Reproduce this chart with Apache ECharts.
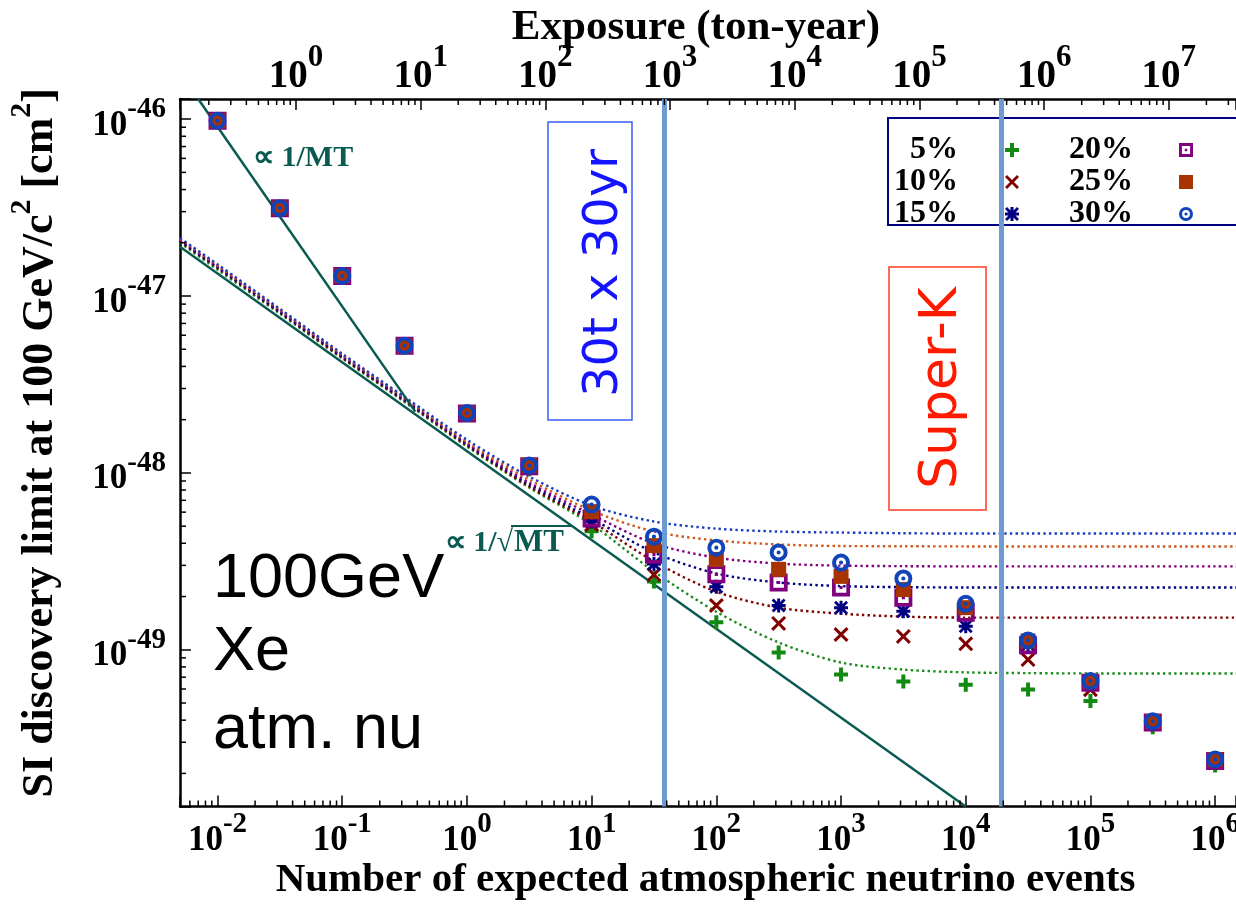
<!DOCTYPE html>
<html>
<head>
<meta charset="utf-8">
<script src="https://cdn.jsdelivr.net/npm/echarts@6/dist/echarts.min.js"></script>
<style>
html,body{margin:0;padding:0;background:#fff;}
#chart{width:1236px;height:912px;}
</style>
</head>
<body>
<div id="chart"></div>
<script>
// ---------------- data ----------------
const SERIES_NAMES = ['5%', '10%', '15%', '20%', '25%', '30%'];

// expected atmospheric-neutrino events (bottom axis) of the marker columns
const N_EVENTS = [0.01, 0.0316, 0.1, 0.316, 1, 3.16, 10, 31.6, 100, 316, 1000, 3160, 10000, 31600, 100000, 316000, 1000000];

// SI discovery limit [cm^2] for each systematic uncertainty
const SIGMA_5  = [9.8e-47, 3.12e-47, 1.29e-47, 5.15e-48, 2.14e-48, 1.05e-48, 4.68e-49, 2.43e-49, 1.43e-49, 9.66e-50, 7.24e-50, 6.61e-50, 6.34e-50, 5.96e-50, 5.13e-50, 3.65e-50, 2.22e-50];
const SIGMA_10 = [9.8e-47, 3.12e-47, 1.30e-47, 5.20e-48, 2.15e-48, 1.07e-48, 5.10e-49, 2.66e-49, 1.78e-49, 1.41e-49, 1.22e-49, 1.19e-49, 1.08e-49, 8.80e-50, 5.95e-50, 3.85e-50, 2.30e-50];
const SIGMA_15 = [9.8e-47, 3.13e-47, 1.30e-47, 5.22e-48, 2.16e-48, 1.08e-48, 5.31e-49, 3.05e-49, 2.27e-49, 1.78e-49, 1.73e-49, 1.65e-49, 1.36e-49, 1.07e-49, 6.55e-50, 3.90e-50, 2.36e-50];
const SIGMA_20 = [9.8e-47, 3.14e-47, 1.30e-47, 5.24e-48, 2.17e-48, 1.09e-48, 5.52e-49, 3.45e-49, 2.67e-49, 2.40e-49, 2.25e-49, 1.97e-49, 1.62e-49, 1.06e-49, 6.50e-50, 3.88e-50, 2.35e-50];
const SIGMA_25 = [9.8e-47, 3.14e-47, 1.30e-47, 5.24e-48, 2.18e-48, 1.10e-48, 6.04e-49, 3.88e-49, 3.24e-49, 2.85e-49, 2.60e-49, 2.19e-49, 1.73e-49, 1.12e-49, 6.62e-50, 3.93e-50, 2.39e-50];
const SIGMA_30 = [9.8e-47, 3.14e-47, 1.30e-47, 5.24e-48, 2.18e-48, 1.10e-48, 6.62e-49, 4.36e-49, 3.78e-49, 3.55e-49, 3.11e-49, 2.53e-49, 1.82e-49, 1.13e-49, 6.65e-50, 3.94e-50, 2.40e-50];

// dotted curves
const N_CURVE  = [0.005, 0.01, 0.0316, 0.1, 0.316, 1, 3.16, 10, 31.6, 100, 316, 1000, 3160, 10000, 31600, 100000, 1000000, 1470000];
const CURVE_5  = [2.00e-47, 1.41e-47, 7.95e-48, 4.44e-48, 2.52e-48, 1.41e-48, 8.26e-49, 5.11e-49, 2.77e-49, 1.64e-49, 1.10e-49, 8.47e-50, 7.73e-50, 7.45e-50, 7.38e-50, 7.35e-50, 7.35e-50, 7.35e-50];
const CURVE_10 = [2.03e-47, 1.44e-47, 8.07e-48, 4.48e-48, 2.55e-48, 1.43e-48, 8.37e-49, 5.31e-49, 3.16e-49, 2.13e-49, 1.73e-49, 1.60e-49, 1.54e-49, 1.52e-49, 1.52e-49, 1.52e-49, 1.52e-49, 1.52e-49];
const CURVE_15 = [2.05e-47, 1.45e-47, 8.15e-48, 4.54e-48, 2.58e-48, 1.45e-48, 8.59e-49, 5.52e-49, 3.55e-49, 2.70e-49, 2.40e-49, 2.29e-49, 2.26e-49, 2.25e-49, 2.25e-49, 2.25e-49, 2.25e-49, 2.25e-49];
const CURVE_20 = [2.08e-47, 1.47e-47, 8.27e-48, 4.60e-48, 2.62e-48, 1.47e-48, 8.81e-49, 5.81e-49, 3.99e-49, 3.32e-49, 3.07e-49, 2.99e-49, 2.97e-49, 2.96e-49, 2.96e-49, 2.96e-49, 2.96e-49, 2.96e-49];
const CURVE_25 = [2.11e-47, 1.49e-47, 8.39e-48, 4.66e-48, 2.66e-48, 1.50e-48, 9.16e-49, 6.12e-49, 4.66e-49, 4.15e-49, 3.94e-49, 3.86e-49, 3.85e-49, 3.84e-49, 3.84e-49, 3.84e-49, 3.84e-49, 3.84e-49];
const CURVE_30 = [2.13e-47, 1.51e-47, 8.47e-48, 4.72e-48, 2.69e-48, 1.54e-48, 9.53e-49, 6.53e-49, 5.31e-49, 4.84e-49, 4.66e-49, 4.60e-49, 4.56e-49, 4.54e-49, 4.54e-49, 4.54e-49, 4.54e-49, 4.54e-49];

// scaling guide lines [events, cm^2]
const LINE_1_MT      = [[0.0070, 1.30e-46], [0.385, 2.22e-48]];
const LINE_1_SQRT_MT = [[0.005, 1.90e-47], [10000, 1.30e-50]];

// vertical markers, exposure in ton-year (30t x 30yr, Super-K)
const EXPOSURE_MARKS = [900, 450000];

// axes
const X_MIN = 0.005, X_MAX = 1.47e6;       // events
const TON_YEAR_PER_EVENT = 23.5;           // top axis conversion
const Y_MIN = 1.3e-50, Y_MAX = 1.3e-46;    // cm^2
const UNIT = 1e-50;                        // y values are plotted in units of 1e-50 cm^2

// ---------------- styles ----------------
const SYM_PLUS  = 'path://M5,0H9V5H14V9H9V14H5V9H0V5H5Z';
const SYM_CROSS = 'path://M0,2L2,0L7,5L12,0L14,2L9,7L14,12L12,14L7,9L2,14L0,12L5,7Z';
const SYM_STAR  = 'path://M5.5,0H8.5V14H5.5Z M0,5.5H14V8.5H0Z M0,2L2,0L14,12L12,14Z M12,0L14,2L2,14L0,12Z';
const SYM_HSQ   = 'path://M0,0H16V16H0Z M3.3,3.3V12.7H12.7V3.3Z M6.6,6.6H9.4V9.4H6.6Z';
const SYM_RING  = 'path://M10,0A10,10,0,1,1,10,20A10,10,0,1,1,10,0Z M10,4.4A5.6,5.6,0,1,0,10,15.6A5.6,5.6,0,1,0,10,4.4Z M10,7.7A2.3,2.3,0,1,1,10,12.3A2.3,2.3,0,1,1,10,7.7Z';
const MARK_SYMBOLS = [SYM_PLUS, SYM_CROSS, SYM_STAR, SYM_HSQ, 'rect', SYM_RING];
const MARK_SIZES   = [14, 15, 14, 18, 15, 18];
const MARK_COLORS  = ['#128a12', '#800000', '#000080', '#800080', '#a83200', '#1144b8'];
const CURVE_COLORS = ['#1a8c1a', '#800000', '#000080', '#800080', '#d0561a', '#1a3cc0'];
const TEAL = '#0b5a52';
const SERIF = '"Liberation Serif", "Times New Roman", serif';

const SIGMAS = [SIGMA_5, SIGMA_10, SIGMA_15, SIGMA_20, SIGMA_25, SIGMA_30];
const CURVES = [CURVE_5, CURVE_10, CURVE_15, CURVE_20, CURVE_25, CURVE_30];

function powLabel(v, shift) {
  const e = Math.log10(v);
  const r = Math.round(e);
  if (Math.abs(e - r) > 1e-6) return '';
  return '{b|10}{s|' + (r + shift) + '}';
}
const LABEL_RICH = {
  b: {fontFamily: SERIF, fontWeight: 'bold', fontSize: 35, lineHeight: 48, verticalAlign: 'bottom', color: '#000'},
  s: {fontFamily: SERIF, fontWeight: 'bold', fontSize: 29, lineHeight: 27, verticalAlign: 'top', color: '#000'}
};
const TOP_LABEL_RICH = {
  b: {fontFamily: SERIF, fontWeight: 'bold', fontSize: 39, lineHeight: 54, verticalAlign: 'bottom', color: '#000'},
  s: {fontFamily: SERIF, fontWeight: 'bold', fontSize: 31, lineHeight: 29, verticalAlign: 'top', color: '#000'}
};

// minor log ticks (2..9 x 10^n) for the three visible axes
function minorValues(lo, hi) {
  const out = [];
  for (let n = Math.floor(Math.log10(lo)) - 1; n <= Math.ceil(Math.log10(hi)); n++) {
    for (let k = 2; k <= 9; k++) {
      const v = k * Math.pow(10, n);
      if (v > lo && v < hi) out.push(v);
    }
  }
  return out;
}
const minorBL = [];
minorValues(X_MIN, X_MAX).forEach(v => minorBL.push([v, Y_MIN / UNIT, 0]));
minorValues(Y_MIN / UNIT, Y_MAX / UNIT).forEach(v => minorBL.push([X_MIN, v, 1]));
const minorTop = minorValues(X_MIN * TON_YEAR_PER_EVENT, X_MAX * TON_YEAR_PER_EVENT).map(v => [v, Y_MAX / UNIT, 2]);

function tickRender(params, api) {
  const p = api.coord([api.value(0), api.value(1)]);
  const kind = api.value(2);
  let shape;
  if (kind === 0) shape = {x1: p[0], y1: p[1], x2: p[0], y2: p[1] - 6};
  else if (kind === 1) shape = {x1: p[0], y1: p[1], x2: p[0] + 6, y2: p[1]};
  else shape = {x1: p[0], y1: p[1], x2: p[0], y2: p[1] + 6};
  return {type: 'line', shape: shape, style: {stroke: '#000', lineWidth: 1.5}};
}

// ---------------- series ----------------
const series = [];
CURVES.forEach((c, i) => {
  series.push({
    name: SERIES_NAMES[i] + ' curve', type: 'line', xAxisIndex: 0, yAxisIndex: 0,
    data: N_CURVE.map((n, j) => [n, c[j] / UNIT]),
    showSymbol: false, symbol: 'none', smooth: 0.3,
    lineStyle: {color: CURVE_COLORS[i], width: 2.4, type: [2.4, 3.2]}, z: 2, silent: true
  });
});
series.push({
  name: '1/MT', type: 'line', data: LINE_1_MT.map(p => [p[0], p[1] / UNIT]),
  symbol: 'none', lineStyle: {color: TEAL, width: 2.5}, z: 3, silent: true
});
series.push({
  name: '1/sqrt(MT)', type: 'line', data: LINE_1_SQRT_MT.map(p => [p[0], p[1] / UNIT]),
  symbol: 'none', lineStyle: {color: TEAL, width: 2.5}, z: 3, silent: true
});
SIGMAS.forEach((s, i) => {
  series.push({
    name: SERIES_NAMES[i], type: 'scatter', xAxisIndex: 0, yAxisIndex: 0,
    data: N_EVENTS.map((n, j) => [n, s[j] / UNIT]),
    symbol: MARK_SYMBOLS[i], symbolSize: MARK_SIZES[i],
    itemStyle: {color: MARK_COLORS[i], opacity: 1}, z: 4 + i * 0.01
  });
});
series.push({
  name: 'exposure marks', type: 'line', xAxisIndex: 1, yAxisIndex: 0, data: [], z: 10,
  markLine: {
    silent: true, symbol: ['none', 'none'], label: {show: false},
    lineStyle: {color: '#6b9bd0', width: 5, type: 'solid', opacity: 1},
    data: EXPOSURE_MARKS.map(v => ({xAxis: v}))
  }
});
series.push({
  type: 'custom', xAxisIndex: 0, yAxisIndex: 0, data: minorBL, renderItem: tickRender,
  silent: true, z: 6, encode: {x: 0, y: 1}
});
series.push({
  type: 'custom', xAxisIndex: 1, yAxisIndex: 0, data: minorTop, renderItem: tickRender,
  silent: true, z: 6, encode: {x: 0, y: 1}
});

const legendText = {fontFamily: SERIF, fontWeight: 'bold', fontSize: 32, lineHeight: 26, color: '#000'};

const option = {
  animation: false,
  backgroundColor: '#fff',
  textStyle: {fontFamily: SERIF},
  grid: {left: 180, right: 0, top: 99, bottom: 105.5, containLabel: false, outerBoundsMode: 'none'},
  xAxis: [{
    type: 'log', logBase: 10, min: X_MIN, max: X_MAX, position: 'bottom', splitNumber: 9,
    axisLine: {lineStyle: {color: '#000', width: 2.5}},
    axisTick: {inside: true, length: 11, lineStyle: {color: '#000', width: 1.5}},
    splitLine: {show: false},
    axisLabel: {margin: 4, formatter: v => powLabel(v, 0), rich: LABEL_RICH},
    name: 'Number of expected atmospheric neutrino events', nameLocation: 'middle', nameGap: 53,
    nameMoveOverlap: false,
    nameTextStyle: {fontFamily: SERIF, fontWeight: 'bold', fontSize: 41, color: '#000', padding: [0, 5, 0, 0]}
  }, {
    type: 'log', logBase: 10, min: X_MIN * TON_YEAR_PER_EVENT, max: X_MAX * TON_YEAR_PER_EVENT,
    position: 'top', splitNumber: 9,
    axisLine: {lineStyle: {color: '#000', width: 2.5}},
    axisTick: {inside: true, length: 11, lineStyle: {color: '#000', width: 1.5}},
    splitLine: {show: false},
    axisLabel: {margin: 3, formatter: v => powLabel(v, 0), rich: TOP_LABEL_RICH},
    name: 'Exposure (ton-year)', nameLocation: 'middle', nameGap: 50,
    nameMoveOverlap: false,
    nameTextStyle: {fontFamily: SERIF, fontWeight: 'bold', fontSize: 43, color: '#000', padding: [0, 24, 0, 0]}
  }],
  yAxis: [{
    type: 'log', logBase: 10, min: Y_MIN / UNIT, max: Y_MAX / UNIT, splitNumber: 4,
    axisLine: {lineStyle: {color: '#000', width: 2.5}},
    axisTick: {inside: true, length: 11, lineStyle: {color: '#000', width: 1.5}},
    splitLine: {show: false},
    axisLabel: {margin: 14, formatter: v => powLabel(v, Math.round(Math.log10(UNIT))), rich: LABEL_RICH},
    name: '{n|SI discovery limit at 100 GeV/c}{s|2}{n| [cm}{s|2}{n|]}',
    nameLocation: 'middle', nameGap: 117, nameMoveOverlap: false,
    nameTextStyle: {
      fontFamily: SERIF, fontWeight: 'bold', fontSize: 44, color: '#000', padding: [0, 0, 0, 20],
      rich: {
        n: {fontFamily: SERIF, fontWeight: 'bold', fontSize: 44, lineHeight: 56, verticalAlign: 'bottom', color: '#000'},
        s: {fontFamily: SERIF, fontWeight: 'bold', fontSize: 30, lineHeight: 30, verticalAlign: 'top', color: '#000'}
      }
    }
  }],
  legend: [{
    data: SERIES_NAMES.slice(0, 3), orient: 'vertical', align: 'right', right: 217, top: 134,
    itemGap: 0, itemWidth: 14, itemHeight: 14, padding: 0, selectedMode: false,
    textStyle: Object.assign({padding: [0, 42, 0, 0]}, legendText)
  }, {
    data: SERIES_NAMES.slice(3), orient: 'vertical', align: 'right', right: 43, top: 134,
    itemGap: 0, itemWidth: 14, itemHeight: 14, padding: 0, selectedMode: false,
    textStyle: Object.assign({padding: [0, 41, 0, 0]}, legendText)
  }],
  graphic: [
    {type: 'rect', z: 1, shape: {x: 888, y: 118, width: 370, height: 107}, style: {fill: 'none', stroke: '#000080', lineWidth: 2}},
    {type: 'rect', z: 20, shape: {x: 548, y: 122, width: 84, height: 298}, style: {fill: 'none', stroke: '#3a5cff', lineWidth: 1.5}},
    {type: 'text', z: 20, x: 605, y: 273, rotation: Math.PI / 2,
     style: {text: '30t x 30yr', font: '48px "DejaVu Sans"', fill: '#1414ff', align: 'center', verticalAlign: 'middle'}},
    {type: 'rect', z: 20, shape: {x: 889, y: 267, width: 97, height: 243}, style: {fill: 'none', stroke: '#ff3b1f', lineWidth: 1.5}},
    {type: 'text', z: 20, x: 942, y: 388, rotation: Math.PI / 2,
     style: {text: 'Super-K', font: '52px "DejaVu Sans"', fill: '#ff1a00', align: 'center', verticalAlign: 'middle'}},
    {type: 'text', z: 20, x: 213, y: 580, style: {text: '100GeV', font: '63px "Liberation Sans"', fill: '#000', align: 'left', verticalAlign: 'middle'}},
    {type: 'text', z: 20, x: 213, y: 653, style: {text: 'Xe', font: '63px "Liberation Sans"', fill: '#000', align: 'left', verticalAlign: 'middle'}},
    {type: 'text', z: 20, x: 213, y: 731, style: {text: 'atm. nu', font: '63px "Liberation Sans"', fill: '#000', align: 'left', verticalAlign: 'middle'}},
    {type: 'text', z: 20, x: 253, y: 158, style: {text: '\u221d 1/MT', font: 'bold 30px ' + SERIF, fill: TEAL, align: 'left', verticalAlign: 'middle'}},
    {type: 'text', z: 20, x: 513, y: 543, style: {text: '\u221d 1/\u221a', font: 'bold 30px ' + SERIF, fill: TEAL, align: 'right', verticalAlign: 'middle'}},
    {type: 'text', z: 20, x: 514, y: 543, style: {text: 'MT', font: 'bold 31px ' + SERIF, fill: TEAL, align: 'left', verticalAlign: 'middle'}},
    {type: 'line', z: 20, shape: {x1: 511, y1: 526, x2: 572, y2: 526}, style: {stroke: TEAL, lineWidth: 2}}
  ],
  series: series
};

const chart = echarts.init(document.getElementById('chart'), null, {renderer: 'canvas'});
chart.setOption(option);
</script>
</body>
</html>
